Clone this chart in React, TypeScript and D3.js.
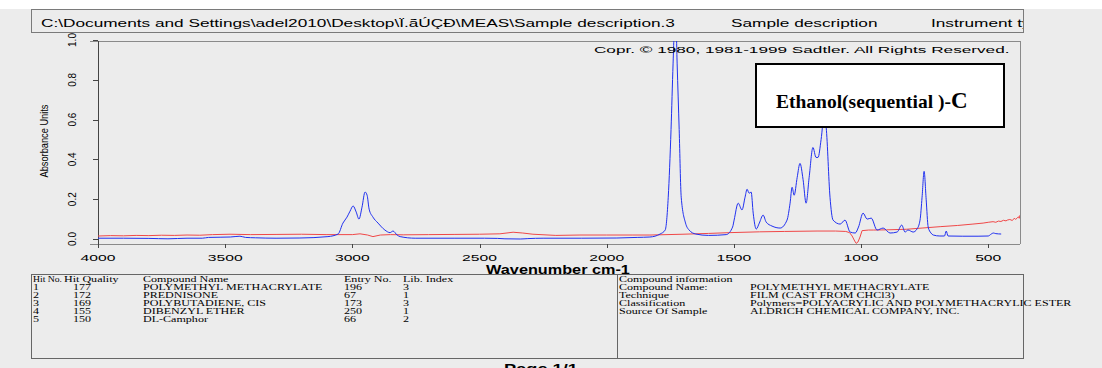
import React from 'react';
import * as d3 from 'd3';

const blueWavenumber = [4000,3900,3800,3725,3650,3590,3565,3520,3480,3442,3420,3380,3300,3206,3096,3056,3037,3021,3009,2997,2985,2974,2962,2950,2942,2934,2919,2899,2872,2852,2840,2824,2812,2753,2600,2480,2430,2400,2340,2310,2250,2100,1960,1880,1830,1790,1770,1758,1747,1739,1733,1728,1723,1715,1707,1690,1676,1650,1600,1530,1505,1499,1483,1468,1456,1448,1440,1432,1424,1412,1400,1385,1373,1350,1318,1291,1279,1271,1263,1251,1240,1228,1216,1204,1189,1177,1169,1157,1145,1137,1122,1110,1082,1063,1043,1023,1010,992,976,960,937,913,886,858,840,827,815,795,780,768,760,752,744,736,725,716,690,672,665,658,600,540,500,488,480,470,449];
const blueAbsorbance = [0.004,0.004,0.003,0.001,0.004,0.004,0.008,0.009,0.010,0.014,0.008,0.006,0.004,0.005,0.012,0.025,0.080,0.110,0.140,0.166,0.136,0.100,0.160,0.236,0.220,0.150,0.110,0.080,0.045,0.032,0.040,0.020,0.012,0.004,0.004,0.004,0.003,0.001,0.000,0.002,0.004,0.004,0.005,0.008,0.010,0.025,0.045,0.210,0.550,0.880,1.080,1.100,0.880,0.550,0.210,0.080,0.045,0.025,0.018,0.022,0.060,0.095,0.180,0.146,0.210,0.250,0.230,0.236,0.130,0.050,0.080,0.120,0.085,0.065,0.055,0.095,0.180,0.260,0.220,0.310,0.380,0.300,0.180,0.310,0.460,0.410,0.410,0.500,0.620,0.560,0.210,0.095,0.075,0.095,0.035,0.030,0.060,0.130,0.100,0.105,0.045,0.055,0.030,0.035,0.070,0.035,0.045,0.035,0.050,0.095,0.210,0.340,0.200,0.060,0.030,0.020,0.015,0.015,0.040,0.015,0.014,0.014,0.015,0.025,0.030,0.027,0.025];

const redWavenumber = [4000,3950,3900,3850,3800,3750,3700,3650,3600,3550,3481,3400,3300,3200,3100,3000,2970,2940,2919,2890,2850,2800,2700,2600,2500,2420,2368,2330,2290,2200,2105,2000,1900,1830,1700,1600,1515,1400,1300,1173,1100,1060,1045,1035,1025,1019,1012,1004,996,970,952,900,820,760,689,620,560,520,500,481,470,460,450,440,430,425,415,405,398,392,386,381,378,375];
const redAbsorbance = [0.015,0.017,0.016,0.018,0.017,0.019,0.018,0.020,0.019,0.022,0.024,0.022,0.023,0.024,0.022,0.022,0.026,0.020,0.012,0.020,0.022,0.021,0.022,0.023,0.024,0.026,0.034,0.030,0.024,0.018,0.020,0.020,0.020,0.020,0.024,0.028,0.032,0.036,0.038,0.040,0.040,0.038,0.032,0.015,-0.010,-0.022,-0.015,0.010,0.042,0.045,0.045,0.046,0.049,0.055,0.062,0.068,0.075,0.080,0.084,0.087,0.084,0.090,0.088,0.094,0.091,0.095,0.098,0.093,0.104,0.099,0.105,0.112,0.104,0.120];

const xTicks = [4000, 3500, 3000, 2500, 2000, 1500, 1000, 500];
const yTicks = [0, 0.2, 0.4, 0.6, 0.8, 1.0];

const titlePath = 'C:\\Documents and Settings\\adel2010\\Desktop\\Ï.ãÚÇÐ\\MEAS\\Sample description.3';
const titleMiddle = 'Sample description';
const titleRight = 'Instrument type';
const copyrightText = 'Copr. \u00A9 1980, 1981-1999 Sadtler.  All Rights Reserved.';
const annotation = 'Ethanol(sequential )-';
const annotationSuffix = 'C';
const yAxisTitle = 'Absorbance Units';
const xAxisTitle = 'Wavenumber cm-1';

const hitHeader = ['Hit No.', 'Hit Quality', 'Compound Name', 'Entry No.', 'Lib. Index'];
const hitNo = ['1', '2', '3', '4', '5'];
const hitQuality = ['177', '172', '169', '155', '150'];
const compoundNames = ['POLYMETHYL METHACRYLATE', 'PREDNISONE', 'POLYBUTADIENE, CIS', 'DIBENZYL ETHER', 'DL-Camphor'];
const entryNo = ['196', '67', '173', '250', '66'];
const libIndex = ['3', '1', '3', '1', '2'];

const infoTitle = 'Compound information';
const infoLabels = ['Compound Name:', 'Technique', 'Classification', 'Source Of Sample'];
const infoValues = ['POLYMETHYL METHACRYLATE', 'FILM (CAST FROM CHCl3)', 'Polymers=POLYACRYLIC AND POLYMETHACRYLIC ESTER', 'ALDRICH CHEMICAL COMPANY, INC.'];
const pageText = 'Page 1/1';

const SANS = 'Liberation Sans, Arial, sans-serif';
const SERIF = 'Liberation Serif, Times New Roman, serif';

function ST(props: any) {
  const { x, y, sx = 1, anchor = 'start', size, family = SANS, weight = 'normal', fill = '#000', len, children } = props;
  if (len) {
    return (
      <text x={x} y={y} textLength={len} lengthAdjust="spacingAndGlyphs" textAnchor={anchor} fontSize={size} fontFamily={family} fontWeight={weight} fill={fill}>
        {children}
      </text>
    );
  }
  return (
    <text transform={`translate(${x},${y}) scale(${sx},1)`} textAnchor={anchor} fontSize={size} fontFamily={family} fontWeight={weight} fill={fill}>
      {children}
    </text>
  );
}

export default function App() {
  const W = 1102, H = 368;
  const x = d3.scaleLinear().domain([4000, 375]).range([98, 1020]);
  const y = d3.scaleLinear().domain([0, 1]).range([239, 40]);

  const blueData = blueWavenumber.map((w, i) => [w, blueAbsorbance[i]] as [number, number]);
  const redData = redWavenumber.map((w, i) => [w, redAbsorbance[i]] as [number, number]);

  const blueLine = d3.line<[number, number]>().x(d => x(d[0])).y(d => y(d[1])).curve(d3.curveMonotoneX);
  const redLine = d3.line<[number, number]>().x(d => x(d[0])).y(d => y(d[1])).curve(d3.curveLinear);

  const plotTop = 41, plotBottom = 244, plotRight = 1020, axisX = 98;
  const tableTop = 274.5, tableBottom = 358.5;
  const rowH = 8;
  const serifSx = 1.42;
  const fs = 8.5;
  const leftCols = [33, 64, 143, 344, 403];

  return (
    <svg width={W} height={H} style={{ position: 'absolute', left: 0, top: 0 }} xmlns="http://www.w3.org/2000/svg">
      <defs>
        <clipPath id="plotClip">
          <rect x={axisX} y={plotTop} width={plotRight - axisX} height={plotBottom - plotTop} />
        </clipPath>
        <clipPath id="titleClip">
          <rect x={32} y={10} width={991} height={22} />
        </clipPath>
      </defs>
      <rect x={0} y={0} width={W} height={H} fill="#ffffff" />
      <rect x={0} y={9} width={W} height={H - 9} fill="#ececec" />

      {/* frame */}
      <line x1={90} x2={plotRight} y1={plotTop + 0.5} y2={plotTop + 0.5} stroke="#8a8a8a" />
      <line x1={plotRight + 0.5} x2={plotRight + 0.5} y1={plotTop} y2={plotBottom} stroke="#8a8a8a" />
      <line x1={90} x2={plotRight} y1={plotBottom + 0.5} y2={plotBottom + 0.5} stroke="#8a8a8a" />
      <line x1={axisX + 0.5} x2={axisX + 0.5} y1={plotTop} y2={plotBottom + 4} stroke="#444" />

      {/* y ticks */}
      {yTicks.map(t => (
        <g key={'y' + t}>
          <line x1={93} x2={axisX} y1={Math.round(y(t)) + 0.5} y2={Math.round(y(t)) + 0.5} stroke="#444" />
          <text transform={`translate(72.5,${y(t)}) rotate(-90)`} textAnchor="middle" dominantBaseline="central" fontSize={10} fontFamily={SANS} fill="#000">
            {d3.format('.1f')(t)}
          </text>
        </g>
      ))}
      <text transform={`translate(44,141) rotate(-90)`} textAnchor="middle" dominantBaseline="central" fontSize={10.5} fontFamily={SANS} fill="#000" textLength={73} lengthAdjust="spacingAndGlyphs">
        {yAxisTitle}
      </text>

      {/* x ticks */}
      {xTicks.map(t => (
        <g key={'x' + t}>
          <line x1={Math.round(x(t)) + 0.5} x2={Math.round(x(t)) + 0.5} y1={plotBottom} y2={plotBottom + 4} stroke="#444" />
          <ST x={x(t)} y={261} sx={1.65} anchor="middle" size={9.5}>{String(t)}</ST>
        </g>
      ))}
      <ST x={558} y={273.5} sx={1.3} anchor="middle" size={12.5} weight="bold">{xAxisTitle}</ST>

      {/* spectra */}
      <g clipPath="url(#plotClip)">
        <path d={redLine(redData) || ''} fill="none" stroke="#f04848" strokeWidth={1} />
        <path d={blueLine(blueData) || ''} fill="none" stroke="#2030f0" strokeWidth={1} />
      </g>

      {/* copyright */}
      <ST x={1009.5} y={53} sx={1.81} anchor="end" size={9.5}>{copyrightText}</ST>

      {/* annotation */}
      <rect x={756} y={64} width={248} height={63} fill="#ffffff" stroke="#000" strokeWidth={2} />
      <text x={776} y={108} fontFamily={SERIF} fontWeight="bold" fill="#000">
        <tspan fontSize={19.5}>{annotation}</tspan>
        <tspan fontSize={23}>{annotationSuffix}</tspan>
      </text>

      {/* title bar */}
      <rect x={31.5} y={9.5} width={992} height={23} fill="#ececec" stroke="#7a7a7a" />
      <g clipPath="url(#titleClip)">
        <ST x={41} y={27} sx={1.5} size={11.5}>{titlePath}</ST>
        <ST x={731} y={27} sx={1.5} size={11.5}>{titleMiddle}</ST>
        <ST x={931} y={27} sx={1.5} size={11.5}>{titleRight}</ST>
      </g>

      {/* tables */}
      <rect x={31.5} y={tableTop} width={586} height={tableBottom - tableTop} fill="none" stroke="#666" />
      <rect x={617.5} y={tableTop} width={406} height={tableBottom - tableTop} fill="none" stroke="#666" />
      {hitHeader.map((h, i) => (
        i === 0
          ? <ST key={'h' + i} x={leftCols[i]} y={281.5} len={29} size={fs} family={SERIF}>{h}</ST>
          : <ST key={'h' + i} x={leftCols[i]} y={281.5} sx={serifSx} size={fs} family={SERIF}>{h}</ST>
      ))}
      {hitNo.map((n, r) => {
        const yy = 281.5 + rowH * (r + 1);
        return (
          <g key={'r' + r}>
            <ST x={leftCols[0]} y={yy} sx={serifSx} size={fs} family={SERIF}>{n}</ST>
            <ST x={73} y={yy} sx={serifSx} size={fs} family={SERIF}>{hitQuality[r]}</ST>
            <ST x={leftCols[2]} y={yy} sx={serifSx} size={fs} family={SERIF}>{compoundNames[r]}</ST>
            <ST x={leftCols[3]} y={yy} sx={serifSx} size={fs} family={SERIF}>{entryNo[r]}</ST>
            <ST x={leftCols[4]} y={yy} sx={serifSx} size={fs} family={SERIF}>{libIndex[r]}</ST>
          </g>
        );
      })}
      <ST x={619} y={281.5} sx={serifSx} size={fs} family={SERIF}>{infoTitle}</ST>
      {infoLabels.map((l, r) => {
        const yy = 281.5 + rowH * (r + 1);
        return (
          <g key={'i' + r}>
            <ST x={619} y={yy} sx={serifSx} size={fs} family={SERIF}>{l}</ST>
            <ST x={750} y={yy} sx={serifSx} size={fs} family={SERIF}>{infoValues[r]}</ST>
          </g>
        );
      })}

      <ST x={541} y={373} sx={1.4} anchor="middle" size={13} weight="bold">{pageText}</ST>
    </svg>
  );
}
